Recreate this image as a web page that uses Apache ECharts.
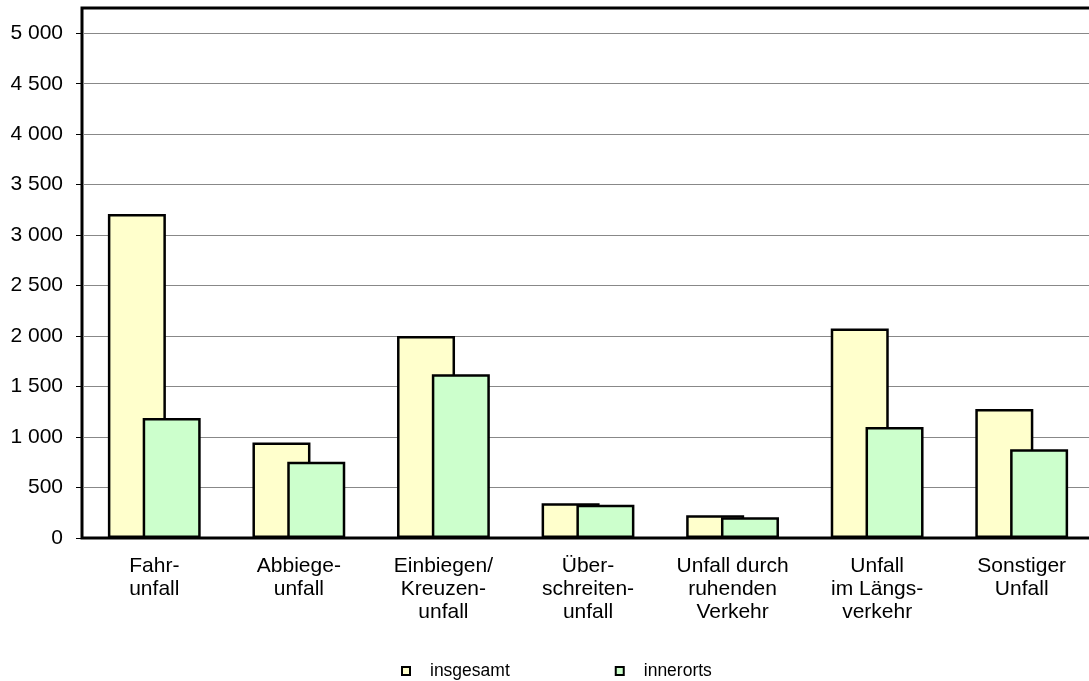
<!DOCTYPE html>
<html>
<head>
<meta charset="utf-8">
<script src="https://cdn.jsdelivr.net/npm/echarts@6/dist/echarts.min.js"></script>
<style>
html,body{margin:0;padding:0;background:#fff;}
#chart{width:1089px;height:681px;}
</style>
</head>
<body>
<div id="chart"></div>
<script>
const categories = ['Fahr-\nunfall', 'Abbiege-\nunfall', 'Einbiegen/\nKreuzen-\nunfall', 'Über-\nschreiten-\nunfall', 'Unfall durch\nruhenden\nVerkehr', 'Unfall\nim Längs-\nverkehr', 'Sonstiger\nUnfall'];
const insgesamt = [3210, 947, 2000, 343, 225, 2076, 1277];
const innerorts = [1188, 756, 1621, 330, 205, 1099, 878];
const yTicks = [0, 500, 1000, 1500, 2000, 2500, 3000, 3500, 4000, 4500, 5000];
const seriesNames = ['insgesamt', 'innerorts'];

const font = 'Liberation Sans, Arial, sans-serif';
const fmt = v => String(v).replace(/\B(?=(\d{3})+(?!\d))/g, ' ');

const chart = echarts.init(document.getElementById('chart'), null, {renderer: 'canvas'});
chart.setOption({
  animation: false,
  backgroundColor: '#fff',
  grid: {
    left: 82, top: 8, width: 1012, bottom: 143,
    outerBoundsMode: 'none', containLabel: false,
    show: true, borderColor: '#000', borderWidth: 3, backgroundColor: 'transparent'
  },
  legend: {
    data: seriesNames,
    left: 401, top: 662, padding: 0,
    itemWidth: 8, itemHeight: 8, itemGap: 105,
    icon: 'rect',
    textStyle: {fontFamily: font, fontSize: 17.5, color: '#000', padding: [0, 0, 0, 15]}
  },
  xAxis: {
    type: 'category',
    data: categories,
    axisLine: {show: true, lineStyle: {color: '#000', width: 2}},
    axisTick: {show: false},
    axisLabel: {fontFamily: font, fontSize: 21, color: '#000', lineHeight: 23, margin: 17, interval: 0, align: 'center'},
    splitLine: {show: false}
  },
  yAxis: {
    type: 'value',
    min: 0, max: 5250, interval: 500,
    axisLine: {show: true, lineStyle: {color: '#000', width: 2}},
    axisTick: {show: true, length: 6, inside: false, lineStyle: {color: '#000', width: 1}, customValues: yTicks},
    axisLabel: {fontFamily: font, fontSize: 21, color: '#000', margin: 19, formatter: fmt, customValues: yTicks},
    splitLine: {show: true, lineStyle: {color: '#888', width: 1}}
  },
  series: [
    {
      name: seriesNames[0], type: 'bar', data: insgesamt,
      barWidth: 58, barGap: '-40%',
      itemStyle: {color: '#FFFFCC', borderColor: '#000', borderWidth: 2.5}
    },
    {
      name: seriesNames[1], type: 'bar', data: innerorts,
      barWidth: 58, barGap: '-40%',
      itemStyle: {color: '#CCFFCC', borderColor: '#000', borderWidth: 2.5}
    }
  ]
});
</script>
</body>
</html>
